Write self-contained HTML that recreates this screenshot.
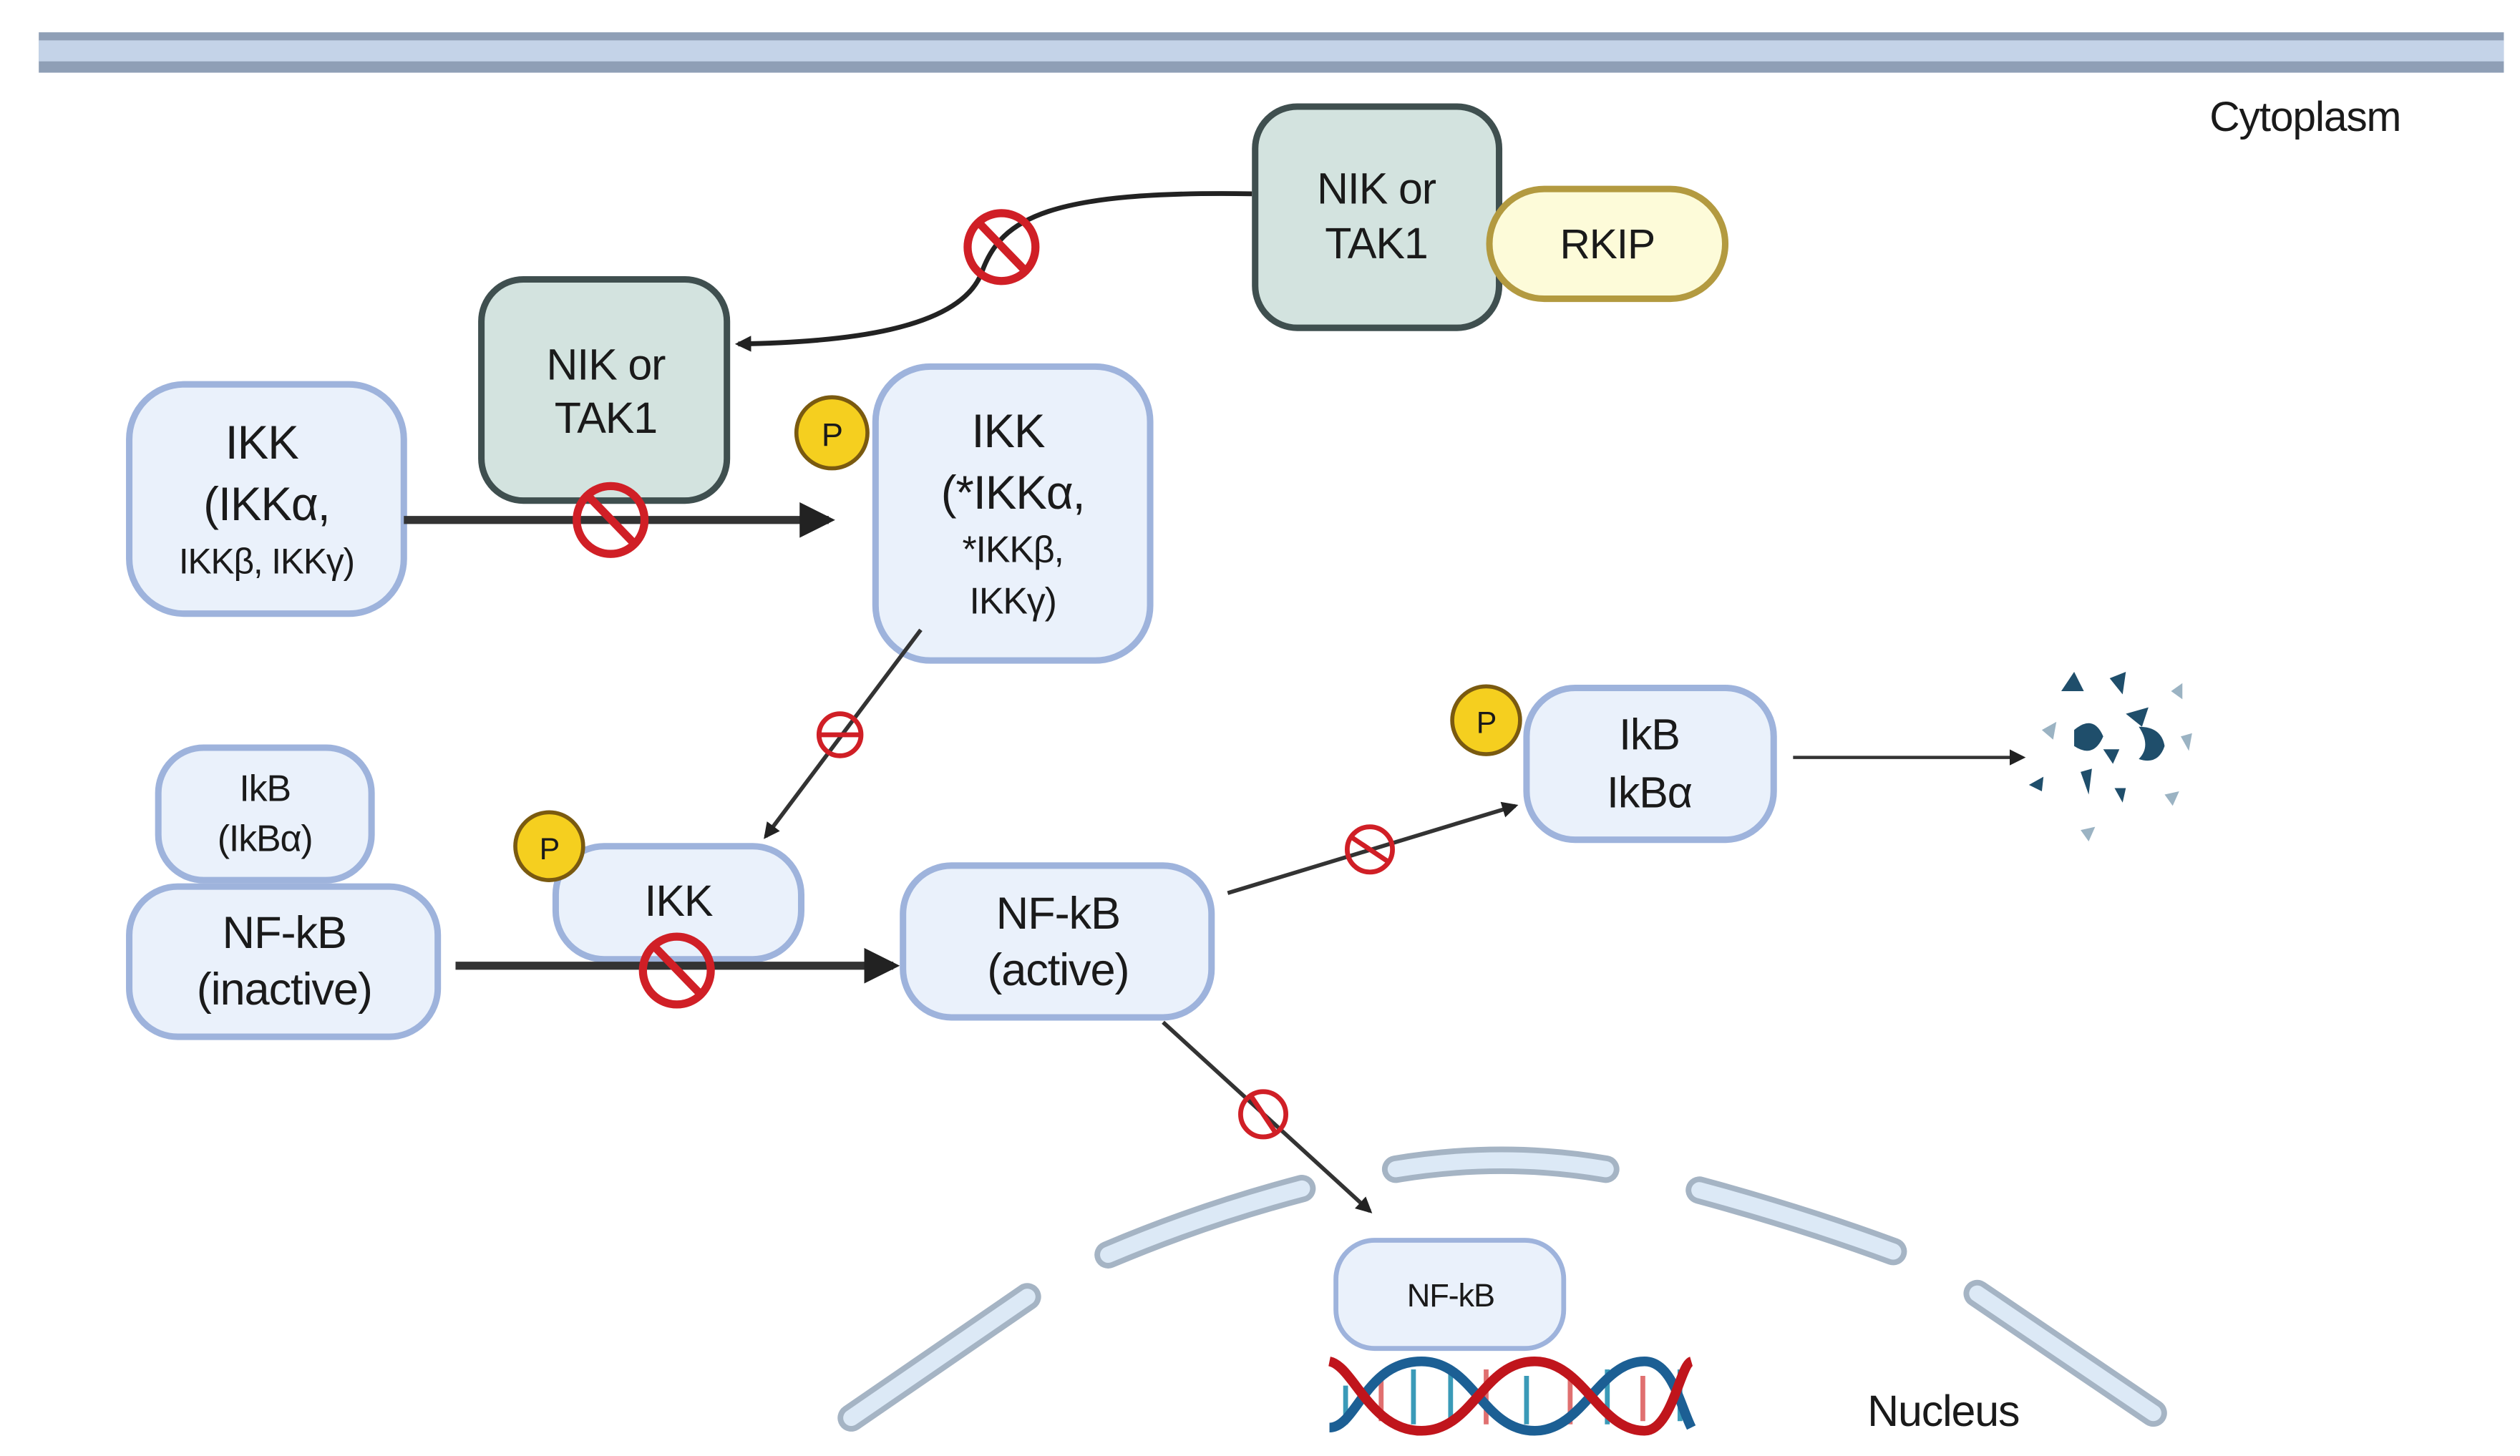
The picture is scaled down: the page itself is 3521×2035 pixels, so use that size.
<!DOCTYPE html>
<html><head><meta charset="utf-8">
<style>
html,body{margin:0;padding:0;background:#fff;}
svg{display:block;}
text{font-family:"Liberation Sans",sans-serif;fill:#1a1a1a;text-anchor:middle;letter-spacing:-0.5px;}
</style></head><body>
<svg width="3521" height="2035" viewBox="0 0 1560 901.6" preserveAspectRatio="none" xmlns="http://www.w3.org/2000/svg">
<defs>
<marker id="ah" markerWidth="10" markerHeight="10" refX="8" refY="5" orient="auto" markerUnits="userSpaceOnUse"><path d="M0,0 L10,5 L0,10 z" fill="#222"/></marker>
<marker id="ahb" markerWidth="22" markerHeight="22" refX="18" refY="11" orient="auto" markerUnits="userSpaceOnUse"><path d="M0,0 L22,11 L0,22 z" fill="#222"/></marker>
</defs>
<!-- membrane -->
<rect x="24" y="20" width="1526" height="25" fill="#8f9fb6"/>
<rect x="24" y="25" width="1526" height="13" fill="#c4d3e8"/>
<text x="1427" y="81" font-size="26">Cytoplasm</text>

<!-- top NIK -->
<path d="M775,120 C 650,118 620,135 608,168 C 595,205 520,212 457,213" fill="none" stroke="#222" stroke-width="3" marker-end="url(#ah)"/>
<circle cx="620" cy="153" r="21" fill="none" stroke="#d01f26" stroke-width="5"/>
<line x1="606" y1="138" x2="635" y2="168" stroke="#d01f26" stroke-width="5"/>
<rect x="777" y="66" width="151" height="137" rx="26" fill="#d3e3df" stroke="#3f4f4f" stroke-width="4"/>
<text x="852" y="126" font-size="27">NIK or</text>
<text x="852" y="160" font-size="27">TAK1</text>
<rect x="922" y="117" width="146" height="68" rx="34" fill="#fdfbd9" stroke="#b39a40" stroke-width="4"/>
<text x="995" y="160" font-size="26">RKIP</text>

<!-- left NIK -->
<rect x="298" y="173" width="152" height="137" rx="26" fill="#d3e3df" stroke="#3f4f4f" stroke-width="4"/>
<text x="375" y="235" font-size="27">NIK or</text>
<text x="375" y="268" font-size="27">TAK1</text>

<!-- IKK left -->
<rect x="80" y="238" width="170" height="142" rx="34" fill="#eaf1fb" stroke="#9eb3dc" stroke-width="4"/>
<text x="162" y="284" font-size="29">IKK</text>
<text x="165" y="322" font-size="29">(IKKα,</text>
<text x="165" y="355" font-size="22">IKKβ, IKKγ)</text>

<line x1="250" y1="322" x2="513" y2="322" stroke="#333" stroke-width="5" marker-end="url(#ahb)"/>
<circle cx="378" cy="322" r="21" fill="none" stroke="#d01f26" stroke-width="5"/>
<line x1="364" y1="307" x2="393" y2="337" stroke="#d01f26" stroke-width="5"/>

<!-- IKK right -->
<rect x="542" y="227" width="170" height="182" rx="34" fill="#eaf1fb" stroke="#9eb3dc" stroke-width="4"/>
<text x="624" y="277" font-size="29">IKK</text>
<text x="627" y="315" font-size="29">(*IKKα,</text>
<text x="627" y="348" font-size="23">*IKKβ,</text>
<text x="627" y="380" font-size="23">IKKγ)</text>
<circle cx="515" cy="268" r="22" fill="#f5cf1f" stroke="#7a5a10" stroke-width="2.5"/>
<text x="515" y="276" font-size="20">P</text>

<line x1="570" y1="390" x2="474" y2="518" stroke="#333" stroke-width="2.5" marker-end="url(#ah)"/>
<circle cx="520" cy="455" r="13" fill="none" stroke="#d01f26" stroke-width="3"/>
<line x1="507" y1="455" x2="533" y2="455" stroke="#d01f26" stroke-width="3"/>

<!-- IkB / NFkB inactive -->
<rect x="98" y="463" width="132" height="82" rx="28" fill="#eaf1fb" stroke="#9eb3dc" stroke-width="4"/>
<text x="164" y="496" font-size="23">IkB</text>
<text x="164" y="527" font-size="23">(IkBα)</text>
<rect x="80" y="549" width="191" height="93" rx="30" fill="#eaf1fb" stroke="#9eb3dc" stroke-width="4"/>
<text x="176" y="587" font-size="28">NF-kB</text>
<text x="176" y="622" font-size="28">(inactive)</text>

<rect x="344" y="524" width="152" height="70" rx="30" fill="#eaf1fb" stroke="#9eb3dc" stroke-width="4"/>
<text x="420" y="567" font-size="27">IKK</text>
<circle cx="340" cy="524" r="21" fill="#f5cf1f" stroke="#7a5a10" stroke-width="2.5"/>
<text x="340" y="532" font-size="19">P</text>

<line x1="282" y1="598" x2="553" y2="598" stroke="#333" stroke-width="5" marker-end="url(#ahb)"/>
<circle cx="419" cy="601" r="21" fill="none" stroke="#d01f26" stroke-width="5"/>
<line x1="405" y1="586" x2="434" y2="616" stroke="#d01f26" stroke-width="5"/>

<!-- NFkB active -->
<rect x="559" y="536" width="191" height="94" rx="30" fill="#eaf1fb" stroke="#9eb3dc" stroke-width="4"/>
<text x="655" y="575" font-size="28">NF-kB</text>
<text x="655" y="610" font-size="28">(active)</text>

<line x1="760" y1="553" x2="938" y2="499" stroke="#333" stroke-width="2.5" marker-end="url(#ah)"/>
<circle cx="848" cy="526" r="14" fill="none" stroke="#d01f26" stroke-width="3"/>
<line x1="836" y1="518" x2="860" y2="534" stroke="#d01f26" stroke-width="3"/>

<circle cx="920" cy="446" r="21" fill="#f5cf1f" stroke="#7a5a10" stroke-width="2.5"/>
<text x="920" y="454" font-size="19">P</text>
<rect x="945" y="426" width="153" height="94" rx="30" fill="#eaf1fb" stroke="#9eb3dc" stroke-width="4"/>
<text x="1021" y="464" font-size="27">IkB</text>
<text x="1021" y="500" font-size="27">IkBα</text>

<line x1="1110" y1="469" x2="1252" y2="469" stroke="#333" stroke-width="2" marker-end="url(#ah)"/>
<!-- debris -->
<g fill="#1f4e6b">
<path d="M1276,428 l8,-12 l6,12 z"/><path d="M1306,420 l10,-4 l-2,14 z"/><path d="M1316,442 l14,-4 l-4,12 z"/>
<path d="M1284,452 q12,-10 18,4 q-6,14 -18,6 z"/><path d="M1324,450 q14,0 16,12 q-4,12 -16,8 q8,-8 0,-20 z"/>
<path d="M1288,478 l7,-2 l-2,16 z"/><path d="M1256,486 l9,-5 l-1,9 z"/><path d="M1309,488 l7,0 l-2,9 z"/><path d="M1302,464 l10,0 l-4,9 z"/>
</g>
<g fill="#9bb3c3">
<path d="M1264,452 l9,-5 l-2,11 z"/><path d="M1344,428 l7,-5 l0,10 z"/><path d="M1350,456 l7,-2 l-2,11 z"/><path d="M1340,492 l9,-2 l-4,9 z"/><path d="M1288,514 l9,-2 l-4,9 z"/>
</g>

<line x1="720" y1="633" x2="848" y2="750" stroke="#333" stroke-width="2.5" marker-end="url(#ah)"/>
<circle cx="782" cy="690" r="14" fill="none" stroke="#d01f26" stroke-width="3"/>
<line x1="774" y1="678" x2="790" y2="702" stroke="#d01f26" stroke-width="3"/>

<!-- nucleus -->
<g fill="none" stroke-linecap="round">
<g stroke="#a5b4c4" stroke-width="17">
<path d="M527,878 L636,803"/><path d="M686,777 Q745,752 806,736"/><path d="M864,724 Q930,713 994,724"/><path d="M1052,737 Q1115,754 1172,775"/><path d="M1224,801 L1333,875"/>
</g>
<g stroke="#dce9f6" stroke-width="10">
<path d="M527,878 L636,803"/><path d="M686,777 Q745,752 806,736"/><path d="M864,724 Q930,713 994,724"/><path d="M1052,737 Q1115,754 1172,775"/><path d="M1224,801 L1333,875"/>
</g>
</g>
<rect x="827" y="768" width="141" height="67" rx="24" fill="#eaf1fb" stroke="#9eb3dc" stroke-width="3"/>
<text x="898" y="809" font-size="20">NF-kB</text>

<!-- DNA -->
<g stroke-width="3">
<line x1="833" y1="858" x2="833" y2="882" stroke="#3a9ab8"/><line x1="855" y1="852" x2="855" y2="880" stroke="#e07070"/>
<line x1="875" y1="848" x2="875" y2="882" stroke="#3a9ab8"/><line x1="898" y1="848" x2="898" y2="882" stroke="#3a9ab8"/>
<line x1="920" y1="848" x2="920" y2="882" stroke="#e07070"/><line x1="945" y1="852" x2="945" y2="882" stroke="#3a9ab8"/>
<line x1="972" y1="852" x2="972" y2="882" stroke="#e07070"/><line x1="995" y1="848" x2="995" y2="882" stroke="#3a9ab8"/>
<line x1="1017" y1="852" x2="1017" y2="880" stroke="#e07070"/><line x1="1040" y1="848" x2="1040" y2="880" stroke="#3a9ab8"/>
</g>
<g fill="none" stroke-width="6">
<path d="M823,884 C840,884 845,843 880,843 C912,843 918,886 950,886 C980,886 990,843 1018,843 C1035,843 1040,870 1047,884" stroke="#1c5f94"/>
<path d="M823,843 C838,846 848,886 880,886 C912,886 918,843 950,843 C980,843 990,886 1018,886 C1035,886 1040,845 1047,843" stroke="#c0151c"/>
</g>
<text x="1203" y="883" font-size="27">Nucleus</text>
</svg>
</body></html>
